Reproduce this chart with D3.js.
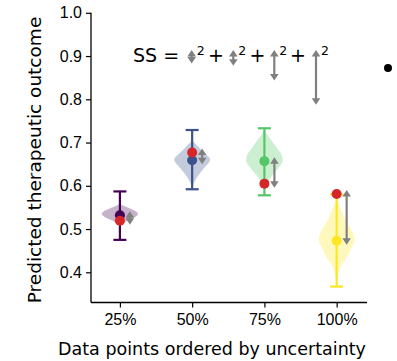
<!DOCTYPE html>
<html>
<head>
<meta charset="utf-8">
<script src="https://cdn.jsdelivr.net/npm/d3@7"></script>
<style>
  body { margin: 0; background: #fff; }
  svg { font-family: "DejaVu Sans", sans-serif; }
</style>
</head>
<body>
<svg id="chart" width="397" height="361"></svg>
<script>
const width = 397;
const height = 361;

// data
const categories = ["25%", "50%", "75%", "100%"];
const predicted = [0.532, 0.659, 0.657, 0.473];
const actual = [0.519, 0.677, 0.605, 0.581];
const errLow = [0.475, 0.592, 0.578, 0.367];
const errHigh = [0.587, 0.729, 0.733, 0.580];
const colors = ["#440154", "#3b528b", "#55c667", "#fde725"];
const yTicks = [0.4, 0.5, 0.6, 0.7, 0.8, 0.9, 1.0];

// violin outlines: value along y and relative half width
const violinY = [
    [0.558, 0.552, 0.546, 0.54, 0.534, 0.528, 0.522, 0.516, 0.51],
    [0.705, 0.69, 0.675, 0.66, 0.645, 0.63, 0.615, 0.602, 0.594],
    [0.728, 0.71, 0.69, 0.672, 0.656, 0.64, 0.625, 0.61, 0.598],
    [0.57, 0.55, 0.52, 0.495, 0.475, 0.455, 0.43, 0.41, 0.39, 0.382]
];
const violinW = [
    [0, 0.3, 0.65, 0.92, 1, 0.85, 0.55, 0.25, 0],
    [0, 0.35, 0.7, 1, 0.75, 0.45, 0.2, 0.05, 0],
    [0, 0.3, 0.65, 0.95, 1, 0.75, 0.45, 0.2, 0],
    [0, 0.2, 0.5, 0.85, 1, 0.8, 0.5, 0.2, 0.05, 0]
];

const svg = d3.select("#chart");

const x = d3.scaleLinear().domain([0.6, 4.42]).range([91, 367]);
const y = d3.scaleLinear().domain([0.4, 1.0]).range([272.3, 12.8]);
const yBottom = 302.5;

// axes
const yAxis = svg.append("g")
    .attr("transform", "translate(91,0)")
    .call(d3.axisLeft(y).tickValues(yTicks).tickFormat(d3.format(".1f")).tickSize(5).tickPadding(4));
yAxis.select(".domain").remove();
svg.append("line")
    .attr("x1", 91).attr("x2", 91).attr("y1", y(1.0)).attr("y2", yBottom)
    .attr("stroke", "#000").attr("stroke-width", 1.3);

const xAxis = svg.append("g")
    .attr("transform", `translate(0,${yBottom})`)
    .call(d3.axisBottom(x).tickValues([1, 2, 3, 4]).tickFormat((d, i) => categories[i]).tickSize(5).tickPadding(6));
xAxis.select(".domain").remove();
svg.append("line")
    .attr("x1", 91).attr("x2", 367).attr("y1", yBottom).attr("y2", yBottom)
    .attr("stroke", "#000").attr("stroke-width", 1.3);

svg.selectAll(".tick text").attr("font-size", 16).attr("fill", "#000");
svg.selectAll(".tick line").attr("stroke", "#000").attr("stroke-width", 1.2);

// axis titles
svg.append("text")
    .attr("transform", "translate(41,160) rotate(-90)")
    .attr("text-anchor", "middle")
    .attr("font-size", 18.5)
    .text("Predicted therapeutic outcome");
svg.append("text")
    .attr("x", 212).attr("y", 355)
    .attr("text-anchor", "middle")
    .attr("font-size", 17.5)
    .text("Data points ordered by uncertainty");

// violins
const halfW = 0.25;
categories.forEach((c, i) => {
    const pts = violinY[i].map((v, j) => ({ v: v, w: violinW[i][j] }));
    const area = d3.area()
        .y(d => y(d.v))
        .x0(d => x(i + 1 - halfW * d.w))
        .x1(d => x(i + 1 + halfW * d.w))
        .curve(d3.curveCatmullRom);
    svg.append("path")
        .attr("d", area(pts))
        .attr("fill", colors[i])
        .attr("fill-opacity", 0.3);
});

// error bars
categories.forEach((c, i) => {
    const cx = x(i + 1);
    const g = svg.append("g").attr("stroke", colors[i]).attr("stroke-width", 2.2);
    g.append("line").attr("x1", cx).attr("x2", cx).attr("y1", y(errLow[i])).attr("y2", y(errHigh[i]));
    g.append("line").attr("x1", cx - 6.5).attr("x2", cx + 6.5).attr("y1", y(errLow[i])).attr("y2", y(errLow[i]));
    g.append("line").attr("x1", cx - 6.5).attr("x2", cx + 6.5).attr("y1", y(errHigh[i])).attr("y2", y(errHigh[i]));
});

// double headed arrow, vertical
function arrow(cx, y1, y2) {
    const g = svg.append("g");
    const head = 6.5, hw = 4.3;
    g.append("line")
        .attr("x1", cx).attr("x2", cx)
        .attr("y1", y1 + head - 1).attr("y2", y2 - head + 1)
        .attr("stroke", "#808080").attr("stroke-width", 2.2);
    g.append("path")
        .attr("d", `M${cx},${y1} L${cx - hw},${y1 + head} L${cx + hw},${y1 + head} Z`)
        .attr("fill", "#808080");
    g.append("path")
        .attr("d", `M${cx},${y2} L${cx - hw},${y2 - head} L${cx + hw},${y2 - head} Z`)
        .attr("fill", "#808080");
}

categories.forEach((c, i) => {
    const top = Math.min(y(predicted[i]), y(actual[i])) - 4;
    const bot = Math.max(y(predicted[i]), y(actual[i])) + 4;
    arrow(x(i + 1) + 10, top, bot);
});

// dots
categories.forEach((c, i) => {
    svg.append("circle").attr("cx", x(i + 1)).attr("cy", y(predicted[i])).attr("r", 5).attr("fill", colors[i]);
    svg.append("circle").attr("cx", x(i + 1)).attr("cy", y(actual[i])).attr("r", 5).attr("fill", "#d62728");
});

// SS equation
svg.append("text").attr("x", 133).attr("y", 62).attr("font-size", 19).text("SS =");
const eqX = [191.7, 233.3, 274.3, 316];
const plusX = [216, 257.5, 298];
eqX.forEach((ex, i) => {
    const len = Math.abs(y(predicted[i]) - y(actual[i])) + 8;
    arrow(ex, 50, 50 + len);
    svg.append("text").attr("x", ex + 5).attr("y", 55).attr("font-size", 12.5).text("2");
});
plusX.forEach(px => {
    svg.append("text").attr("x", px).attr("y", 62).attr("text-anchor", "middle").attr("font-size", 19).text("+");
});

svg.append("circle").attr("cx", 388).attr("cy", 68).attr("r", 4).attr("fill", "#000");
</script>
</body>
</html>
